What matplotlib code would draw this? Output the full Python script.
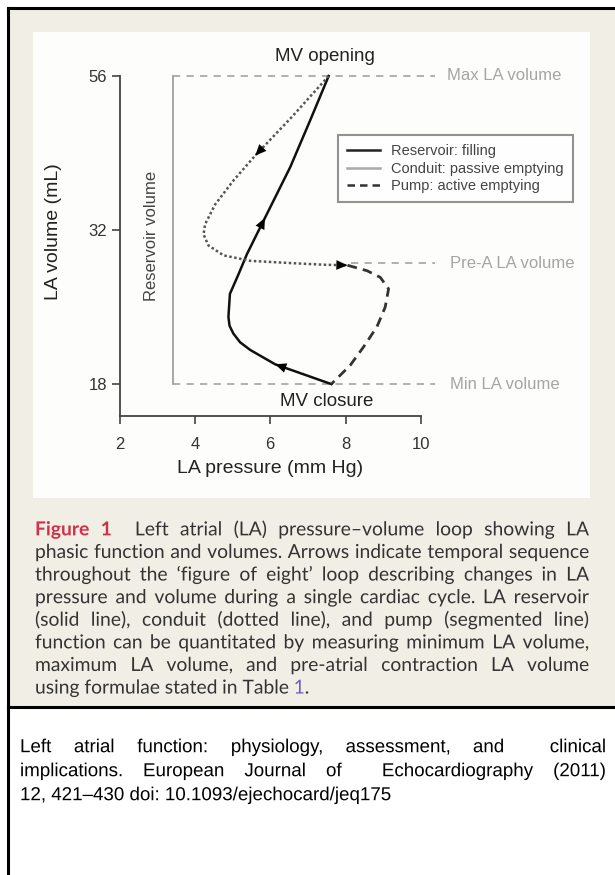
import numpy as np
import matplotlib
matplotlib.use('Agg')
import matplotlib.pyplot as plt
import matplotlib.patheffects as pe
from matplotlib.lines import Line2D
from matplotlib.patches import Rectangle

plt.rcParams['font.family'] = ['Liberation Sans', 'DejaVu Sans']

# data (pressure in mm Hg, volume in mL)
pressure_ticks = [2, 4, 6, 8, 10]
volume_ticks = [18, 32, 56]
vol_min, vol_preA, vol_max = 18, 29, 56

reservoir_p = [7.62, 6.13, 5.47, 5.20, 5.02, 4.92, 4.89, 4.93, 5.16, 5.38, 5.64, 5.86, 6.53, 7.06, 7.55]
reservoir_v = [18.0, 19.8, 21.1, 21.8, 22.6, 23.3, 24.1, 26.2, 28.0, 29.8, 31.6, 33.9, 41.8, 49.1, 56.0]

conduit_p = [7.55, 6.57, 5.60, 5.02, 4.54, 4.27, 4.23, 4.36, 4.76, 5.47, 6.53, 7.41, 8.05]
conduit_v = [56.0, 49.6, 43.6, 39.7, 36.0, 32.9, 31.6, 30.6, 29.7, 29.2, 29.0, 28.85, 28.8]

pump_p = [8.05, 8.57, 8.92, 9.14, 9.05, 8.83, 8.48, 8.12, 7.62]
pump_v = [28.8, 28.3, 27.7, 26.65, 25.0, 23.2, 21.4, 19.7, 18.0]

legend_labels = ['Reservoir: filling', 'Conduit: passive emptying', 'Pump: active emptying']
level_labels = ['Max LA volume', 'Pre-A LA volume', 'Min LA volume']

caption_lines = [
    'Left atrial (LA) pressure\u2013volume loop showing LA',
    'phasic function and volumes. Arrows indicate temporal sequence',
    'throughout the \u2018figure of eight\u2019 loop describing changes in LA',
    'pressure and volume during a single cardiac cycle. LA reservoir',
    '(solid line), conduit (dotted line), and pump (segmented line)',
    'function can be quantitated by measuring minimum LA volume,',
    'maximum LA volume, and pre-atrial contraction LA volume',
    'using formulae stated in Table',
]
citation_lines = [
    'Left atrial function: physiology, assessment, and  clinical',
    'implications. European Journal of  Echocardiography (2011)',
    '12, 421\u2013430 doi: 10.1093/ejechocard/jeq175',
]

W, H = 615, 875


def fx(x):
    return x / W


def fy(y):
    return 1 - y / H


fig = plt.figure(figsize=(W / 100, H / 100), dpi=100)
fig.patch.set_facecolor('white')
renderer = fig.canvas.get_renderer()

# page frame
sep_y = 707
fig.add_artist(Rectangle((fx(8), fy(sep_y)), 1 - fx(8), fy(8) - fy(sep_y), transform=fig.transFigure,
                         facecolor='#f0eee5', edgecolor='none', zorder=-10))
fig.add_artist(Rectangle((fx(33), fy(498)), fx(590) - fx(33), fy(32) - fy(498), transform=fig.transFigure,
                         facecolor='#fdfdfb', edgecolor='none', zorder=-9))
for xs, ys in [([fx(8), 1], [fy(8), fy(8)]), ([fx(8), fx(8)], [fy(8), 0]), ([fx(8), 1], [fy(sep_y), fy(sep_y)])]:
    fig.add_artist(Line2D(xs, ys, transform=fig.transFigure, color='black', lw=2.2))

# the plot
ax = fig.add_axes([fx(119.5), fy(416), (421 - 119.5) / W, (416 - 76) / H])
ax.patch.set_visible(False)


def fwd(v):
    v = np.asarray(v, float)
    return np.where(v <= 32, (v - 18) / 14.0, 1 + (v - 32) / 24.0)


def inv(t):
    t = np.asarray(t, float)
    return np.where(t <= 1, 18 + 14 * t, 32 + 24 * (t - 1))


ax.set_yscale('function', functions=(fwd, inv))
ax.set_xlim(2, 10)
ax.set_ylim(15.1, 56)
ax.set_xticks(pressure_ticks)
ax.set_xticklabels([str(t) for t in pressure_ticks])
ax.set_yticks(volume_ticks)
ax.set_yticklabels([str(t) for t in volume_ticks])
ax.minorticks_off()
for s in ['top', 'right']:
    ax.spines[s].set_visible(False)
for s in ['left', 'bottom']:
    ax.spines[s].set_color('#444444')
    ax.spines[s].set_linewidth(1.3)
ax.tick_params(axis='x', direction='out', length=6, width=1.2, colors='#444444',
               labelcolor='#333333', labelsize=12, pad=9)
ax.tick_params(axis='y', direction='out', length=6, width=1.2, colors='#444444',
               labelcolor='#333333', labelsize=12, pad=3)

ax.set_xlabel('LA pressure (mm Hg)', fontsize=14, color='#222222', va='center')
ax.xaxis.set_label_coords(0.499, -0.155)
ax.set_ylabel('LA volume (mL)', fontsize=14, color='#222222', va='center')
ax.yaxis.set_label_coords(-0.22, 0.541)

# level lines
dash = (0, (4, 3.5))
ax.plot([3.41, 10.38], [vol_max, vol_max], color='#aaaaaa', lw=1.3, ls=dash, clip_on=False)
ax.plot([8.15, 10.38], [vol_preA, vol_preA], color='#aaaaaa', lw=1.3, ls=dash, clip_on=False)
ax.plot([3.41, 10.38], [vol_min, vol_min], color='#aaaaaa', lw=1.3, ls=dash, clip_on=False)
ax.plot([3.41, 3.41], [vol_min, vol_max], color='#999999', lw=1.2, clip_on=False)
for lab, v, x in zip(level_labels, [vol_max, vol_preA, vol_min], [10.68, 10.78, 10.78]):
    ax.text(x, v, lab, ha='left', va='center', fontsize=12, color='#a5a5a5', clip_on=False)

ax.text(7.46, 59.0, 'MV opening', ha='center', va='center', fontsize=13.5, color='#222222', clip_on=False)
ax.text(7.51, 16.4, 'MV closure', ha='center', va='center', fontsize=13.5, color='#222222', clip_on=False)
ax.text(2.84, 31.5, 'Reservoir volume', rotation=90, ha='center', va='center', fontsize=12, color='#444444')

# loop
ax.plot(reservoir_p, reservoir_v, color='#111111', lw=1.8, solid_joinstyle='round', clip_on=False)
ax.plot(conduit_p, conduit_v, color='#555555', lw=1.8, ls=(0, (1, 1)), clip_on=False)
ax.plot(pump_p, pump_v, color='#333333', lw=2.0, ls=(0, (3.5, 2.2)), clip_on=False)


def add_arrow(p, v, i):
    ax.annotate('', xy=(p[i], v[i]), xytext=(p[i - 1], v[i - 1]),
                arrowprops=dict(arrowstyle='-|>,head_length=0.8,head_width=0.35', color='black',
                                lw=0.01, shrinkA=0, shrinkB=0, mutation_scale=10))


add_arrow(reservoir_p, reservoir_v, 1)
add_arrow(reservoir_p, reservoir_v, 11)
add_arrow(conduit_p, conduit_v, 2)
add_arrow(conduit_p, conduit_v, len(conduit_p) - 1)

handles = [Line2D([], [], color='#222222', lw=1.8),
           Line2D([], [], color='#aaaaaa', lw=1.8),
           Line2D([], [], color='#333333', lw=1.8, ls=(0, (3, 2)))]
leg = ax.legend(handles, legend_labels, loc='upper left', bbox_to_anchor=(fx(338), fy(135)),
                bbox_transform=fig.transFigure, frameon=True, fancybox=False, edgecolor='#777777',
                fontsize=10.5, handlelength=2.2, handletextpad=0.8, borderpad=0.65,
                labelspacing=0.22, borderaxespad=0)
leg.get_frame().set_linewidth(1.5)
for t in leg.get_texts():
    t.set_color('#444444')


# justified text blocks, one text per word
# (drawn through a path effect so every word sits on the same baseline)
def width_of(s, **kw):
    if s == '':
        return 0.0
    t = fig.text(0, 0, s, **kw)
    w = t.get_window_extent(renderer).width
    t.remove()
    return w


def draw_tokens(tokens, y, x0, x1, justify, space):
    # tokens: (text, props, glued_to_next); y is the line's visual middle in px
    widths = [width_of(s, **p) for s, p, g in tokens]
    n_gaps = sum(1 for s, p, g in tokens[:-1] if not g)
    gap = (x1 - x0 - sum(widths)) / n_gaps if justify else space
    x = x0
    for (s, p, g), w in zip(tokens, widths):
        if s:
            base = y + 0.33 * p['fontsize'] * 100 / 72
            fig.text(fx(x), fy(base), s, ha='left', va='baseline',
                     path_effects=[pe.Normal()], **p)
        x += w + (0 if g else gap)


widest = max(width_of(l, fontsize=12, family='Lato') for l in caption_lines[1:7])
size = 12 * 548 / widest
cap = dict(fontsize=size, family='Lato', color='#333333')
red = dict(fontsize=size, family='Lato', color='#d03048', weight='bold')
blue = dict(fontsize=size, family='Lato', color='#6b63b5')
cap_space = width_of('a a', **cap) - 2 * width_of('a', **cap)

for i, line in enumerate(caption_lines):
    toks = [(w, cap, False) for w in line.split(' ')]
    if i == 0:
        toks = [('Figure', red, False), ('1', red, False), ('', cap, False)] + toks
    last = i == len(caption_lines) - 1
    if last:
        toks += [('1', blue, True), ('.', cap, False)]
    draw_tokens(toks, 529 + 22.6 * i, 35, 589, not last, cap_space)

csize = 12 * 372 / width_of(citation_lines[2], fontsize=12, family='Liberation Sans')
cit = dict(fontsize=csize, family='Liberation Sans', color='black')
cit_space = width_of('a a', **cit) - 2 * width_of('a', **cit)
for i, line in enumerate(citation_lines):
    toks = [(w, cit, False) for w in line.split(' ')]
    draw_tokens(toks, 746 + 24 * i, 20, 606, i < 2, cit_space)

fig.savefig('out.png', dpi=100)
